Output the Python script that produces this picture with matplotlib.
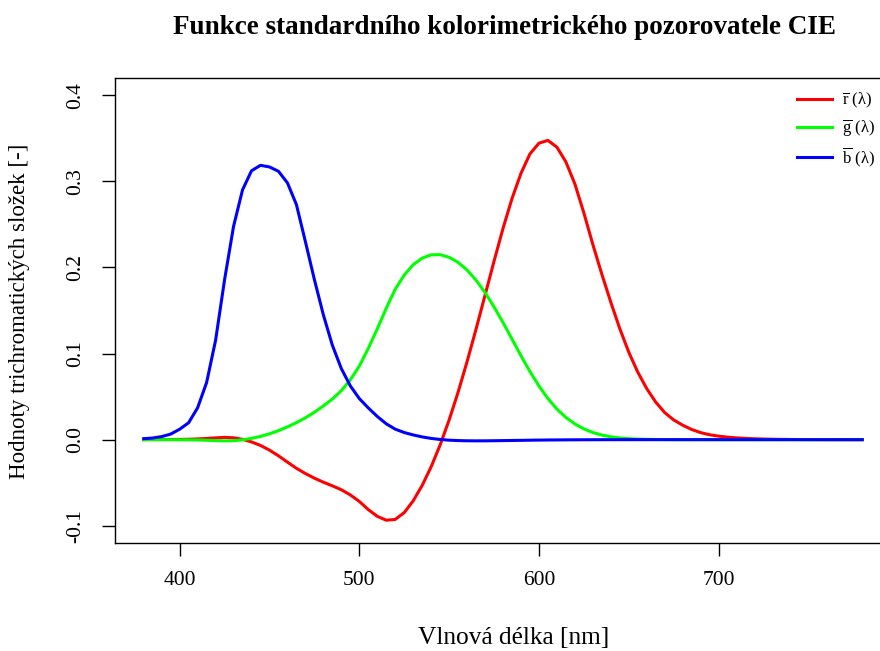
import matplotlib
matplotlib.use("Agg")
import matplotlib.pyplot as plt
import numpy as np

plt.rcParams['font.family'] = ['Liberation Serif', 'DejaVu Serif']
plt.rcParams['mathtext.fontset'] = 'custom'
plt.rcParams['mathtext.rm'] = 'Liberation Serif'
plt.rcParams['mathtext.it'] = 'Liberation Serif:italic'

wavelength = list(range(380, 781, 5))
r_bar = [0.00003, 0.00005, 0.00010, 0.00017, 0.00030, 0.00047, 0.00084, 0.00139, 0.00211, 0.00266,
         0.00218, 0.00036, -0.00261, -0.00673, -0.01213, -0.01874, -0.02608, -0.03324, -0.03933, -0.04471,
         -0.04939, -0.05364, -0.05814, -0.06414, -0.07173, -0.08120, -0.08901, -0.09356, -0.09264, -0.08473,
         -0.07101, -0.05316, -0.03152, -0.00613, 0.02279, 0.05514, 0.09060, 0.12840, 0.16768, 0.20715,
         0.24526, 0.27989, 0.30928, 0.33184, 0.34429, 0.34756, 0.33971, 0.32265, 0.29708, 0.26348,
         0.22677, 0.19233, 0.15968, 0.12905, 0.10167, 0.07857, 0.05932, 0.04366, 0.03149, 0.02294,
         0.01687, 0.01187, 0.00819, 0.00572, 0.00410, 0.00291, 0.00210, 0.00148, 0.00105, 0.00074,
         0.00052, 0.00036, 0.00025, 0.00017, 0.00012, 0.00008, 0.00006, 0.00004, 0.00003, 0.00001,
         0.00000]
g_bar = [-0.00001, -0.00002, -0.00004, -0.00007, -0.00014, -0.00022, -0.00041, -0.00070, -0.00110, -0.00143,
         -0.00119, -0.00021, 0.00149, 0.00379, 0.00678, 0.01046, 0.01485, 0.01977, 0.02538, 0.03183,
         0.03914, 0.04713, 0.05689, 0.06948, 0.08536, 0.10593, 0.12860, 0.15262, 0.17468, 0.19113,
         0.20317, 0.21083, 0.21466, 0.21487, 0.21178, 0.20588, 0.19702, 0.18522, 0.17087, 0.15429,
         0.13610, 0.11686, 0.09754, 0.07909, 0.06246, 0.04776, 0.03557, 0.02583, 0.01828, 0.01253,
         0.00833, 0.00537, 0.00334, 0.00199, 0.00116, 0.00066, 0.00037, 0.00021, 0.00011, 0.00006,
         0.00003, 0.00001, 0.0, 0.0, 0.0, 0.0, 0.0, 0.0, 0.0, 0.0,
         0.0, 0.0, 0.0, 0.0, 0.0, 0.0, 0.0, 0.0, 0.0, 0.0,
         0.0]
b_bar = [0.00117, 0.00189, 0.00359, 0.00647, 0.01214, 0.01969, 0.03707, 0.06637, 0.11541, 0.18575,
         0.24769, 0.29012, 0.31228, 0.31860, 0.31670, 0.31166, 0.29821, 0.27295, 0.22991, 0.18592,
         0.14494, 0.10968, 0.08257, 0.06246, 0.04776, 0.03688, 0.02698, 0.01842, 0.01221, 0.00830,
         0.00549, 0.00320, 0.00146, 0.00023, -0.00058, -0.00105, -0.00130, -0.00138, -0.00135, -0.00123,
         -0.00108, -0.00093, -0.00079, -0.00063, -0.00049, -0.00038, -0.00030, -0.00022, -0.00015, -0.00011,
         -0.00008, -0.00005, -0.00003, -0.00002, -0.00001, -0.00001, 0.0, 0.0, 0.0, 0.0,
         0.0, 0.0, 0.0, 0.0, 0.0, 0.0, 0.0, 0.0, 0.0, 0.0,
         0.0, 0.0, 0.0, 0.0, 0.0, 0.0, 0.0, 0.0, 0.0, 0.0,
         0.0]

series_labels = [r'$\overline{\mathrm{r}}$ (λ)', r'$\overline{\mathrm{g}}$ (λ)', r'$\overline{\mathrm{b}}$ (λ)']
series_colors = ['#ff0000', '#00ff00', '#0000ff']
x_ticks = [400, 500, 600, 700]
y_ticks = [-0.1, 0.0, 0.1, 0.2, 0.3, 0.4]

fig = plt.figure(figsize=(8.8, 6.51), dpi=100)
ax = fig.add_axes([115/880, 108/651, 776/880, 465/651])

for ys, c, lab in zip([r_bar, g_bar, b_bar], series_colors, series_labels):
    ax.plot(wavelength, ys, color=c, lw=2.2, label=lab)

ax.set_xlim(364, 796)
ax.set_ylim(-0.12, 0.42)
ax.set_xticks(x_ticks)
ax.set_xticklabels([str(t) for t in x_ticks])
ax.set_yticks(y_ticks)
ax.set_yticklabels([f"{t:.1f}" for t in y_ticks], rotation=90, va='center')
ax.tick_params(direction='out', length=9.4, width=1, labelsize=15.5)
ax.tick_params(axis='x', pad=11)
ax.tick_params(axis='y', pad=12)
for s in ax.spines.values():
    s.set_linewidth(1.0)

fig.text(514/880, 1 - 638/651, 'Vlnová délka [nm]', ha='center', va='center', fontsize=18.3)
fig.text(20/880, 1 - 311/651, 'Hodnoty trichromatických složek [-]', ha='center', va='center',
         rotation=90, fontsize=16.5)
fig.text(504/880, 1 - 28/651, 'Funkce standardního kolorimetrického pozorovatele CIE',
         ha='center', va='center', fontsize=19.5, fontweight='bold')

leg = ax.legend(loc='upper left', bbox_to_anchor=(797/880, 1 - 91/651), bbox_transform=fig.transFigure,
                frameon=False, fontsize=12, borderpad=0, borderaxespad=0,
                handlelength=2.1, handletextpad=0.6, labelspacing=0.42)

fig.savefig('out.png', dpi=100)
